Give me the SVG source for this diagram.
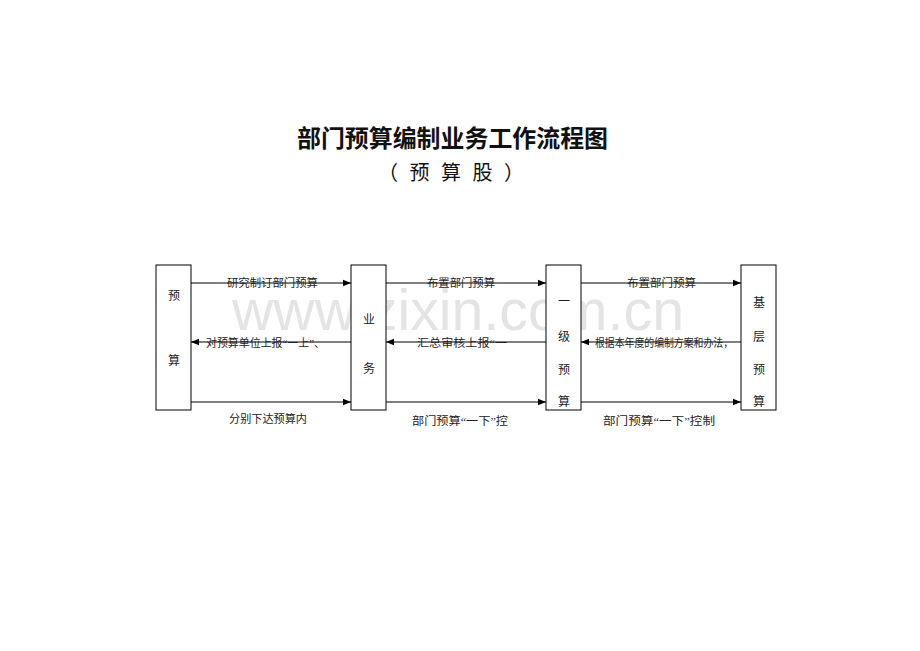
<svg xmlns="http://www.w3.org/2000/svg" width="920" height="651" viewBox="0 0 920 651">
<defs>
<marker id="ah" viewBox="0 0 10 10" refX="10" refY="5" markerWidth="8" markerHeight="8" markerUnits="userSpaceOnUse" orient="auto">
<path d="M0,1 L10,5 L0,9 z" fill="#000"/>
</marker>
<style>
.box{fill:#fff;stroke:#000;stroke-width:1}
.ln{stroke:#000;stroke-width:1.2;fill:none;marker-end:url(#ah)}
.t{font-family:"Liberation Serif","Noto Sans CJK SC",serif;font-size:11px;fill:#222}
.bt{font-family:"Liberation Serif","Noto Sans CJK SC",serif;font-size:12px;fill:#222;text-anchor:middle}
.wm{font-family:"Liberation Sans",Arial,sans-serif;font-size:58px;fill:#e4e4e4}
</style>
</defs>
<rect width="920" height="651" fill="#fff"/>
<text x="297" y="147" textLength="311" lengthAdjust="spacingAndGlyphs" font-family="'Noto Sans CJK SC',sans-serif" font-size="24" font-weight="bold" fill="#111">部门预算编制业务工作流程图</text>
<text x="378" y="180" textLength="146" lengthAdjust="spacing" font-family="'Noto Sans CJK SC',sans-serif" font-size="20" fill="#111">（ 预 算 股 ）</text>
<text class="wm" x="232" y="330" textLength="452" lengthAdjust="spacingAndGlyphs">www.zixin.com.cn</text>
<g id="connectors">
<line class="ln" x1="191" y1="283" x2="351" y2="283"/>
<line class="ln" x1="351" y1="342" x2="191" y2="342"/>
<line class="ln" x1="191" y1="402" x2="351" y2="402"/>
<line class="ln" x1="386" y1="283" x2="546" y2="283"/>
<line class="ln" x1="546" y1="342" x2="386" y2="342"/>
<line class="ln" x1="386" y1="402" x2="546" y2="402"/>
<line class="ln" x1="581" y1="283" x2="741" y2="283"/>
<line class="ln" x1="741" y1="342" x2="581" y2="342"/>
<line class="ln" x1="581" y1="402" x2="741" y2="402"/>
<text class="t" x="227" y="287" textLength="91" lengthAdjust="spacingAndGlyphs">研究制订部门预算</text>
<text class="t" x="206" y="347" textLength="119" lengthAdjust="spacingAndGlyphs">对预算单位上报“一上”、</text>
<text class="t" x="229" y="423" textLength="78" lengthAdjust="spacingAndGlyphs">分别下达预算内</text>
<text class="t" x="427" y="287" textLength="68" lengthAdjust="spacingAndGlyphs">布置部门预算</text>
<text class="t" x="417" y="347" textLength="90" lengthAdjust="spacingAndGlyphs">汇总审核上报“一</text>
<text class="t" x="412" y="425" textLength="96" lengthAdjust="spacingAndGlyphs">部门预算“一下”控</text>
<text class="t" x="627" y="287" textLength="69" lengthAdjust="spacingAndGlyphs">布置部门预算</text>
<text class="t" x="595" y="347" textLength="138" lengthAdjust="spacingAndGlyphs">根据本年度的编制方案和办法，</text>
<text class="t" x="603" y="425" textLength="112" lengthAdjust="spacingAndGlyphs">部门预算“一下”控制</text>
</g>
<g id="node1">
<rect class="box" x="156" y="265" width="35" height="145"/>
<text class="bt" x="174" y="300">预</text>
<text class="bt" x="174" y="365">算</text>
</g>
<g id="node2">
<rect class="box" x="351" y="265" width="35" height="145"/>
<text class="bt" x="369" y="324">业</text>
<text class="bt" x="369" y="373">务</text>
</g>
<g id="node3">
<rect class="box" x="546" y="265" width="35" height="145"/>
<text class="bt" x="564" y="306">一</text>
<text class="bt" x="564" y="341">级</text>
<text class="bt" x="564" y="374">预</text>
<text class="bt" x="564" y="406">算</text>
</g>
<g id="node4">
<rect class="box" x="741" y="265" width="35" height="145"/>
<text class="bt" x="759" y="307">基</text>
<text class="bt" x="759" y="341">层</text>
<text class="bt" x="759" y="374">预</text>
<text class="bt" x="759" y="406">算</text>
</g>
</svg>
